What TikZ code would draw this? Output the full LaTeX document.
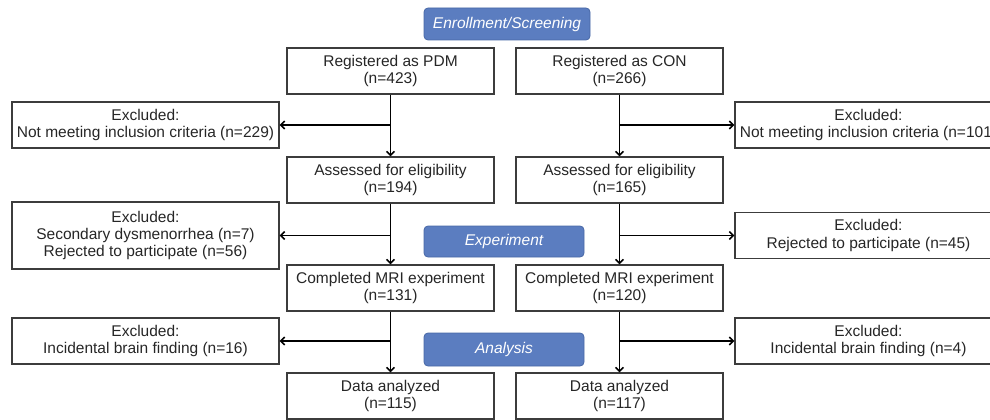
\documentclass[tikz,border=0pt]{standalone}
\usepackage{fontspec}
\setmainfont{Liberation Sans}
\usetikzlibrary{positioning, arrows.meta}
\definecolor{bannerb}{RGB}{91,125,192}
\definecolor{bannerd}{RGB}{72,104,166}
\definecolor{boxg}{RGB}{60,60,60}

\begin{document}
\begin{tikzpicture}[x=1pt, y=-1pt,
    font=\fontsize{15.5}{17.2}\selectfont,
    stagebox/.style={draw=boxg, line width=1.1pt, minimum width=207pt,
      minimum height=46pt, inner sep=0pt, align=center, text=black!85},
    exclbox/.style={stagebox, minimum width=267pt},
    banner/.style={fill=bannerb, draw=bannerd, line width=0.8pt, rounded corners=4pt,
      text=white, font=\fontsize{15.5}{17.2}\selectfont\itshape, minimum width=160pt,
      minimum height=32pt, inner sep=0pt},
    ->/.style={-{Straight Barb[length=4pt, width=8pt]}, line width=1.6pt}]
  \clip (0,0) rectangle (990,420);
  % phase banners
  \node [banner, minimum width=166pt] (enroll) at (507,24) {Enrollment/Screening};
  \node [banner, minimum height=31pt] (expmt) at (504,241.5) {Experiment};
  \node [banner, minimum height=33pt] (anlys) at (504,349.5) {Analysis};
  % PDM column
  \node [stagebox] (regP) at (390.5,71) {Registered as PDM\\(n=423)};
  \node [stagebox] (assP) at (390.5,180) {Assessed for eligibility\\(n=194)};
  \node [stagebox] (mriP) at (390.5,288) {Completed MRI experiment\\(n=131)};
  \node [stagebox] (datP) at (390.5,396) {Data analyzed\\(n=115)};
  % CON column
  \node [stagebox] (regC) at (619.5,71) {Registered as CON\\(n=266)};
  \node [stagebox] (assC) at (619.5,180) {Assessed for eligibility\\(n=165)};
  \node [stagebox] (mriC) at (619.5,288) {Completed MRI experiment\\(n=120)};
  \node [stagebox] (datC) at (619.5,396) {Data analyzed\\(n=117)};
  % exclusions
  \node [exclbox] (exP1) at (145.5,125) {Excluded:\\Not meeting inclusion criteria (n=229)};
  \node [exclbox, minimum height=67pt] (exP2) at (145.5,235.5)
    {Excluded:\\Secondary dysmenorrhea (n=7)\\Rejected to participate (n=56)};
  \node [exclbox] (exP3) at (145.5,341) {Excluded:\\Incidental brain finding (n=16)};
  \node [exclbox] (exC1) at (868.5,125) {Excluded:\\Not meeting inclusion criteria (n=101)};
  \node [exclbox] (exC2) at (868.5,235.5) {Excluded:\\Rejected to participate (n=45)};
  \node [exclbox] (exC3) at (868.5,341) {Excluded:\\Incidental brain finding (n=4)};
  % flow
  \draw[->] (regP) -- (assP);
  \draw[->] (assP) -- (mriP);
  \draw[->] (mriP) -- (datP);
  \draw[->] (regC) -- (assC);
  \draw[->] (assC) -- (mriC);
  \draw[->] (mriC) -- (datC);
  \draw[->] (regP.south |- exP1.east) -- (exP1.east);
  \draw[->] (assP.south |- exP2.east) -- (exP2.east);
  \draw[->] (mriP.south |- exP3.east) -- (exP3.east);
  \draw[->] (regC.south |- exC1.west) -- (exC1.west);
  \draw[->] (assC.south |- exC2.west) -- (exC2.west);
  \draw[->] (mriC.south |- exC3.west) -- (exC3.west);
\end{tikzpicture}
\end{document}
